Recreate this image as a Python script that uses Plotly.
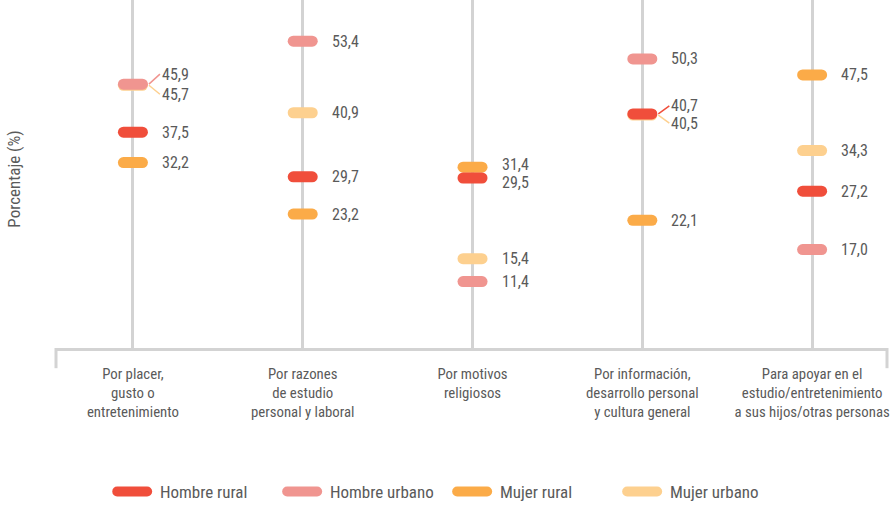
import plotly.graph_objects as go

categories = [
    "Por placer,<br>gusto o<br>entretenimiento",
    "Por razones<br>de estudio<br>personal y laboral",
    "Por motivos<br>religiosos",
    "Por información,<br>desarrollo personal<br>y cultura general",
    "Para apoyar en el<br>estudio/entretenimiento<br>a sus hijos/otras personas",
]
series_names = ["Hombre rural", "Hombre urbano", "Mujer rural", "Mujer urbano"]
hombre_rural = [37.5, 29.7, 29.5, 40.7, 27.2]
hombre_urbano = [45.9, 53.4, 11.4, 50.3, 17.0]
mujer_rural = [32.2, 23.2, 31.4, 22.1, 47.5]
mujer_urbano = [45.7, 40.9, 15.4, 40.5, 34.3]

COLORS = {
    "Hombre rural": "#f04e3b",
    "Hombre urbano": "#f09590",
    "Mujer rural": "#fbab48",
    "Mujer urbano": "#fdd08f",
}
FONT = "Roboto Condensed, DejaVu Sans Condensed, sans-serif"
TEXT = "#5a5a5a"
GRID = "#d3d3d3"
HALF = 0.056  # half pill length (minus round cap), in category units

values = {
    "Hombre rural": hombre_rural,
    "Hombre urbano": hombre_urbano,
    "Mujer rural": mujer_rural,
    "Mujer urbano": mujer_urbano,
}

# crowded spots: leader offsets (px) and small nudges
leaders = {("Hombre urbano", 0): -10, ("Mujer urbano", 0): 9,
           ("Hombre rural", 3): -8, ("Mujer urbano", 3): 8}
nudges = {("Mujer rural", 2): 3, ("Hombre rural", 2): -4}

fig = go.Figure()
draw_order = ["Mujer urbano", "Hombre urbano", "Mujer rural", "Hombre rural"]
for name in draw_order:
    xs, ys = [], []
    for i, v in enumerate(values[name]):
        xs += [i - HALF, i + HALF, None]
        ys += [v, v, None]
    fig.add_trace(go.Scatter(
        x=xs, y=ys, mode="lines", name="\u00a0\u00a0" + name,
        line=dict(color=COLORS[name], width=11),
        legendrank=series_names.index(name),
        hoverinfo="skip",
    ))

annotations = []
for name in series_names:
    for i, v in enumerate(values[name]):
        label = f"{v:.1f}".replace(".", ",")
        key = (name, i)
        if key in leaders:
            annotations.append(dict(
                x=i, y=v, xref="x", yref="y", text=label, xshift=16,
                showarrow=True, arrowhead=0, arrowwidth=1.5, arrowcolor=COLORS[name],
                ax=11, ay=leaders[key], xanchor="left", standoff=0, startstandoff=0,
                font=dict(family=FONT, size=16, color=TEXT),
            ))
        else:
            annotations.append(dict(
                x=i, y=v, xref="x", yref="y", text=label, showarrow=False,
                xanchor="left", xshift=27, yshift=nudges.get(key, 0),
                font=dict(family=FONT, size=16, color=TEXT),
            ))

annotations.append(dict(
    text="Porcentaje (%)", xref="paper", yref="paper", x=-0.05, y=0.485,
    xanchor="center", yanchor="middle", textangle=-90, showarrow=False,
    font=dict(family=FONT, size=17, color=TEXT),
))

shapes = [
    dict(type="line", xref="paper", yref="paper", x0=0, x1=0, y0=0, y1=-0.058,
         line=dict(color=GRID, width=3)),
    dict(type="line", xref="paper", yref="paper", x0=1, x1=1, y0=0, y1=-0.058,
         line=dict(color=GRID, width=3)),
]

fig.update_layout(
    width=890, height=505,
    margin=dict(l=56, r=3, t=0, b=157, autoexpand=False),
    plot_bgcolor="white", paper_bgcolor="white",
    font=dict(family=FONT, color=TEXT, size=15),
    xaxis=dict(
        range=[-0.453, 4.441], tickvals=list(range(5)), ticktext=categories,
        showgrid=True, gridcolor=GRID, gridwidth=3, zeroline=False,
        showline=True, linecolor=GRID, linewidth=3, ticks="",
        tickfont=dict(family=FONT, size=14.8, color=TEXT), ticklabelstandoff=10,
        ticklabeloverflow="allow", automargin=False,
    ),
    yaxis=dict(
        range=[-0.2, 60.6], showgrid=False, zeroline=False, showticklabels=False,
        automargin=False,
    ),
    legend=dict(
        orientation="h", xref="container", yref="container", x=0.126, y=0.026,
        xanchor="left", yanchor="middle", entrywidth=125, traceorder="normal",
        itemwidth=30, font=dict(family=FONT, size=17, color=TEXT),
    ),
    annotations=annotations,
    shapes=shapes,
    showlegend=True,
)

post = """
document.body.style.margin = '0';
document.querySelectorAll('.js-line').forEach(function(p){ p.style.strokeLinecap='round'; });
"""
fig.write_html("out.html", post_script=post, config={"displayModeBar": False})
